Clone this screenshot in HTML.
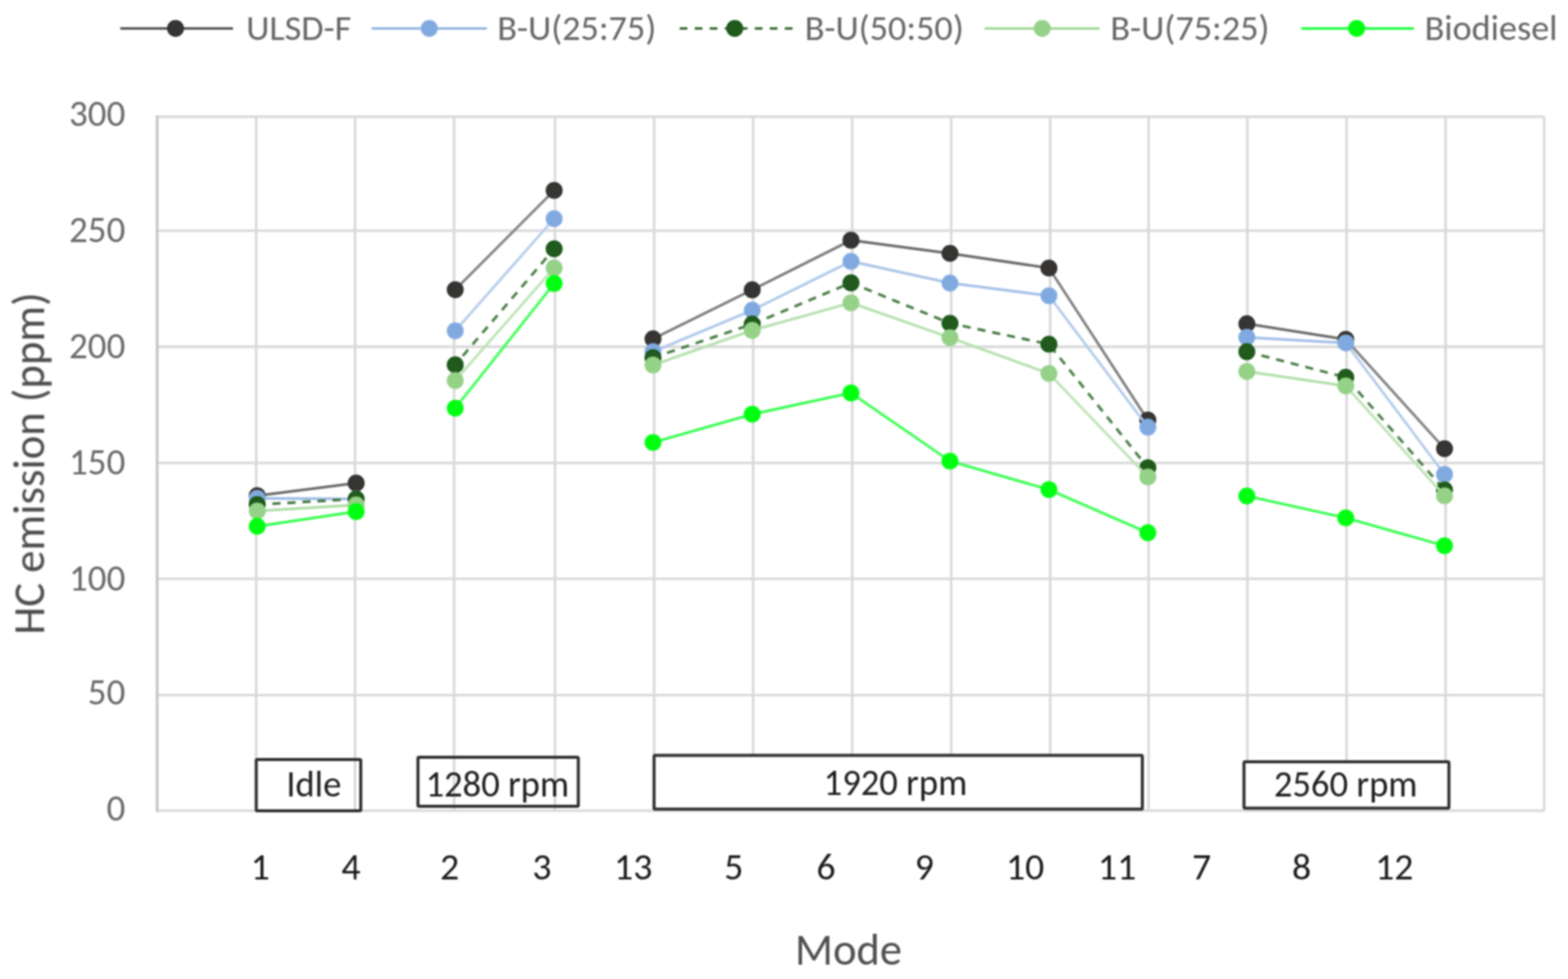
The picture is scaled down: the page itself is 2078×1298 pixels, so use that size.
<!DOCTYPE html>
<html><head><meta charset="utf-8"><title>HC emission chart</title>
<style>html,body{margin:0;padding:0;background:#fff;}body{width:2078px;height:1298px;overflow:hidden;}svg{display:block;}text{font-family:Carlito, 'Liberation Sans', sans-serif;}</style>
</head><body>
<svg width="2078" height="1298" viewBox="0 0 2078 1298">
<defs><filter id="soft" x="0" y="0" width="2078" height="1298" filterUnits="userSpaceOnUse"><feGaussianBlur stdDeviation="1.00" color-interpolation-filters="sRGB"/></filter></defs>
<rect x="0" y="0" width="2078" height="1298" fill="#ffffff"/>
<g filter="url(#soft)">
<g stroke="#d9d9d9" stroke-width="3.4" fill="none">
<line x1="208.3" y1="154.7" x2="2046.4" y2="154.7"/>
<line x1="208.3" y1="305.9" x2="2046.4" y2="305.9"/>
<line x1="208.3" y1="459.8" x2="2046.4" y2="459.8"/>
<line x1="208.3" y1="613.9" x2="2046.4" y2="613.9"/>
<line x1="208.3" y1="767.4" x2="2046.4" y2="767.4"/>
<line x1="208.3" y1="921.6" x2="2046.4" y2="921.6"/>
<line x1="208.3" y1="1074.9" x2="2046.4" y2="1074.9"/>
<line x1="339.5" y1="154.7" x2="339.5" y2="1074.9"/>
<line x1="470.5" y1="154.7" x2="470.5" y2="1074.9"/>
<line x1="601.8" y1="154.7" x2="601.8" y2="1074.9"/>
<line x1="735.5" y1="154.7" x2="735.5" y2="1074.9"/>
<line x1="866.9" y1="154.7" x2="866.9" y2="1074.9"/>
<line x1="998.1" y1="154.7" x2="998.1" y2="1074.9"/>
<line x1="1129.5" y1="154.7" x2="1129.5" y2="1074.9"/>
<line x1="1260.6" y1="154.7" x2="1260.6" y2="1074.9"/>
<line x1="1391.7" y1="154.7" x2="1391.7" y2="1074.9"/>
<line x1="1522.2" y1="154.7" x2="1522.2" y2="1074.9"/>
<line x1="1653.2" y1="154.7" x2="1653.2" y2="1074.9"/>
<line x1="1784.6" y1="154.7" x2="1784.6" y2="1074.9"/>
<line x1="1915.8" y1="154.7" x2="1915.8" y2="1074.9"/>
<line x1="2046.4" y1="154.7" x2="2046.4" y2="1074.9"/>
</g>
<line x1="208.3" y1="153.0" x2="208.3" y2="1076.6" stroke="#c4c4c4" stroke-width="3.6"/>
<g fill="#6a6a6a" font-size="49" text-anchor="end">
<text x="166" y="166.9" textLength="74.50" lengthAdjust="spacingAndGlyphs">300</text>
<text x="166" y="321.0" textLength="74.50" lengthAdjust="spacingAndGlyphs">250</text>
<text x="166" y="474.9" textLength="74.50" lengthAdjust="spacingAndGlyphs">200</text>
<text x="166" y="628.9" textLength="74.50" lengthAdjust="spacingAndGlyphs">150</text>
<text x="166" y="783.1" textLength="74.50" lengthAdjust="spacingAndGlyphs">100</text>
<text x="166" y="934.1" textLength="49.67" lengthAdjust="spacingAndGlyphs">50</text>
<text x="166" y="1087.8" textLength="24.83" lengthAdjust="spacingAndGlyphs">0</text>
</g>
<line x1="340.9" y1="657.2" x2="472.0" y2="640.5" stroke="#686868" stroke-width="3.5" stroke-linecap="round"/>
<line x1="603.3" y1="384.1" x2="734.4" y2="252.5" stroke="#858585" stroke-width="3.5" stroke-linecap="round"/>
<line x1="865.4" y1="449.3" x2="996.9" y2="384.3" stroke="#7a7a7a" stroke-width="3.5" stroke-linecap="round"/>
<line x1="996.9" y1="384.3" x2="1127.8" y2="318.5" stroke="#7a7a7a" stroke-width="3.5" stroke-linecap="round"/>
<line x1="1127.8" y1="318.5" x2="1259.0" y2="335.9" stroke="#686868" stroke-width="3.5" stroke-linecap="round"/>
<line x1="1259.0" y1="335.9" x2="1390.1" y2="355.4" stroke="#696969" stroke-width="3.5" stroke-linecap="round"/>
<line x1="1390.1" y1="355.4" x2="1521.2" y2="557.0" stroke="#7e7e7e" stroke-width="3.5" stroke-linecap="round"/>
<line x1="1652.4" y1="429.3" x2="1783.5" y2="450.0" stroke="#6a6a6a" stroke-width="3.5" stroke-linecap="round"/>
<line x1="1783.5" y1="450.0" x2="1914.4" y2="594.9" stroke="#838383" stroke-width="3.5" stroke-linecap="round"/>
<circle cx="340.9" cy="657.2" r="10.6" fill="#363533" stroke="#2b2a27" stroke-width="1.2"/>
<circle cx="472.0" cy="640.5" r="10.6" fill="#363533" stroke="#2b2a27" stroke-width="1.2"/>
<circle cx="603.3" cy="384.1" r="10.6" fill="#363533" stroke="#2b2a27" stroke-width="1.2"/>
<circle cx="734.4" cy="252.5" r="10.6" fill="#363533" stroke="#2b2a27" stroke-width="1.2"/>
<circle cx="865.4" cy="449.3" r="10.6" fill="#363533" stroke="#2b2a27" stroke-width="1.2"/>
<circle cx="996.9" cy="384.3" r="10.6" fill="#363533" stroke="#2b2a27" stroke-width="1.2"/>
<circle cx="1127.8" cy="318.5" r="10.6" fill="#363533" stroke="#2b2a27" stroke-width="1.2"/>
<circle cx="1259.0" cy="335.9" r="10.6" fill="#363533" stroke="#2b2a27" stroke-width="1.2"/>
<circle cx="1390.1" cy="355.4" r="10.6" fill="#363533" stroke="#2b2a27" stroke-width="1.2"/>
<circle cx="1521.2" cy="557.0" r="10.6" fill="#363533" stroke="#2b2a27" stroke-width="1.2"/>
<circle cx="1652.4" cy="429.3" r="10.6" fill="#363533" stroke="#2b2a27" stroke-width="1.2"/>
<circle cx="1783.5" cy="450.0" r="10.6" fill="#363533" stroke="#2b2a27" stroke-width="1.2"/>
<circle cx="1914.4" cy="594.9" r="10.6" fill="#363533" stroke="#2b2a27" stroke-width="1.2"/>
<line x1="340.9" y1="660.7" x2="472.0" y2="661.5" stroke="#9bbae4" stroke-width="3.5" stroke-linecap="round"/>
<line x1="603.3" y1="438.6" x2="734.4" y2="289.9" stroke="#b7cdec" stroke-width="3.5" stroke-linecap="round"/>
<line x1="865.4" y1="466.3" x2="996.9" y2="411.3" stroke="#afc8ea" stroke-width="3.5" stroke-linecap="round"/>
<line x1="996.9" y1="411.3" x2="1127.8" y2="346.5" stroke="#b0c9ea" stroke-width="3.5" stroke-linecap="round"/>
<line x1="1127.8" y1="346.5" x2="1259.0" y2="375.3" stroke="#a9c4e8" stroke-width="3.5" stroke-linecap="round"/>
<line x1="1259.0" y1="375.3" x2="1390.1" y2="392.1" stroke="#a5c1e7" stroke-width="3.5" stroke-linecap="round"/>
<line x1="1390.1" y1="392.1" x2="1521.2" y2="566.3" stroke="#b5cceb" stroke-width="3.5" stroke-linecap="round"/>
<line x1="1652.4" y1="447.2" x2="1783.5" y2="454.7" stroke="#a1bee6" stroke-width="3.5" stroke-linecap="round"/>
<line x1="1783.5" y1="454.7" x2="1914.4" y2="629.0" stroke="#b5cceb" stroke-width="3.5" stroke-linecap="round"/>
<circle cx="340.9" cy="660.7" r="10.6" fill="#80aadf" stroke="#80aadf" stroke-width="1.2"/>
<circle cx="472.0" cy="661.5" r="10.6" fill="#80aadf" stroke="#80aadf" stroke-width="1.2"/>
<circle cx="603.3" cy="438.6" r="10.6" fill="#80aadf" stroke="#80aadf" stroke-width="1.2"/>
<circle cx="734.4" cy="289.9" r="10.6" fill="#80aadf" stroke="#80aadf" stroke-width="1.2"/>
<circle cx="865.4" cy="466.3" r="10.6" fill="#80aadf" stroke="#80aadf" stroke-width="1.2"/>
<circle cx="996.9" cy="411.3" r="10.6" fill="#80aadf" stroke="#80aadf" stroke-width="1.2"/>
<circle cx="1127.8" cy="346.5" r="10.6" fill="#80aadf" stroke="#80aadf" stroke-width="1.2"/>
<circle cx="1259.0" cy="375.3" r="10.6" fill="#80aadf" stroke="#80aadf" stroke-width="1.2"/>
<circle cx="1390.1" cy="392.1" r="10.6" fill="#80aadf" stroke="#80aadf" stroke-width="1.2"/>
<circle cx="1521.2" cy="566.3" r="10.6" fill="#80aadf" stroke="#80aadf" stroke-width="1.2"/>
<circle cx="1652.4" cy="447.2" r="10.6" fill="#80aadf" stroke="#80aadf" stroke-width="1.2"/>
<circle cx="1783.5" cy="454.7" r="10.6" fill="#80aadf" stroke="#80aadf" stroke-width="1.2"/>
<circle cx="1914.4" cy="629.0" r="10.6" fill="#80aadf" stroke="#80aadf" stroke-width="1.2"/>
<line x1="340.9" y1="669.0" x2="472.0" y2="661.6" stroke="#3f763c" stroke-width="3.5" stroke-dasharray="10.8 9.2" stroke-dashoffset="0.00"/>
<line x1="603.3" y1="483.7" x2="734.4" y2="329.9" stroke="#497d46" stroke-width="3.5" stroke-dasharray="10.8 9.2" stroke-dashoffset="4.50"/>
<line x1="865.4" y1="474.2" x2="996.9" y2="429.8" stroke="#457a42" stroke-width="3.5" stroke-dasharray="10.8 9.2" stroke-dashoffset="0.40"/>
<line x1="996.9" y1="429.8" x2="1127.8" y2="375.0" stroke="#467b43" stroke-width="3.5" stroke-dasharray="10.8 9.2" stroke-dashoffset="139.19"/>
<line x1="1127.8" y1="375.0" x2="1259.0" y2="428.6" stroke="#467b43" stroke-width="3.5" stroke-dasharray="10.8 9.2" stroke-dashoffset="281.10"/>
<line x1="1259.0" y1="428.6" x2="1390.1" y2="456.4" stroke="#437940" stroke-width="3.5" stroke-dasharray="10.8 9.2" stroke-dashoffset="422.83"/>
<line x1="1390.1" y1="456.4" x2="1521.2" y2="620.1" stroke="#497d46" stroke-width="3.5" stroke-dasharray="10.8 9.2" stroke-dashoffset="556.84"/>
<line x1="1652.4" y1="466.3" x2="1783.5" y2="500.3" stroke="#447a41" stroke-width="3.5" stroke-dasharray="10.8 9.2" stroke-dashoffset="0.00"/>
<line x1="1783.5" y1="500.3" x2="1914.4" y2="649.6" stroke="#497e46" stroke-width="3.5" stroke-dasharray="10.8 9.2" stroke-dashoffset="135.44"/>
<circle cx="340.9" cy="669.0" r="10.6" fill="#215a1c" stroke="#0f520f" stroke-width="1.2"/>
<circle cx="472.0" cy="661.6" r="10.6" fill="#215a1c" stroke="#0f520f" stroke-width="1.2"/>
<circle cx="603.3" cy="483.7" r="10.6" fill="#215a1c" stroke="#0f520f" stroke-width="1.2"/>
<circle cx="734.4" cy="329.9" r="10.6" fill="#215a1c" stroke="#0f520f" stroke-width="1.2"/>
<circle cx="865.4" cy="474.2" r="10.6" fill="#215a1c" stroke="#0f520f" stroke-width="1.2"/>
<circle cx="996.9" cy="429.8" r="10.6" fill="#215a1c" stroke="#0f520f" stroke-width="1.2"/>
<circle cx="1127.8" cy="375.0" r="10.6" fill="#215a1c" stroke="#0f520f" stroke-width="1.2"/>
<circle cx="1259.0" cy="428.6" r="10.6" fill="#215a1c" stroke="#0f520f" stroke-width="1.2"/>
<circle cx="1390.1" cy="456.4" r="10.6" fill="#215a1c" stroke="#0f520f" stroke-width="1.2"/>
<circle cx="1521.2" cy="620.1" r="10.6" fill="#215a1c" stroke="#0f520f" stroke-width="1.2"/>
<circle cx="1652.4" cy="466.3" r="10.6" fill="#215a1c" stroke="#0f520f" stroke-width="1.2"/>
<circle cx="1783.5" cy="500.3" r="10.6" fill="#215a1c" stroke="#0f520f" stroke-width="1.2"/>
<circle cx="1914.4" cy="649.6" r="10.6" fill="#215a1c" stroke="#0f520f" stroke-width="1.2"/>
<line x1="340.9" y1="677.5" x2="472.0" y2="669.5" stroke="#addca4" stroke-width="3.5" stroke-linecap="round"/>
<line x1="603.3" y1="504.5" x2="734.4" y2="355.2" stroke="#bfe4b8" stroke-width="3.5" stroke-linecap="round"/>
<line x1="865.4" y1="484.0" x2="996.9" y2="438.0" stroke="#b7e0af" stroke-width="3.5" stroke-linecap="round"/>
<line x1="996.9" y1="438.0" x2="1127.8" y2="401.5" stroke="#b5dfad" stroke-width="3.5" stroke-linecap="round"/>
<line x1="1127.8" y1="401.5" x2="1259.0" y2="447.6" stroke="#b7e0af" stroke-width="3.5" stroke-linecap="round"/>
<line x1="1259.0" y1="447.6" x2="1390.1" y2="495.2" stroke="#b7e0af" stroke-width="3.5" stroke-linecap="round"/>
<line x1="1390.1" y1="495.2" x2="1521.2" y2="632.4" stroke="#c0e4b9" stroke-width="3.5" stroke-linecap="round"/>
<line x1="1652.4" y1="492.5" x2="1783.5" y2="511.7" stroke="#b1dea9" stroke-width="3.5" stroke-linecap="round"/>
<line x1="1783.5" y1="511.7" x2="1914.4" y2="657.4" stroke="#bfe4b8" stroke-width="3.5" stroke-linecap="round"/>
<circle cx="340.9" cy="677.5" r="10.6" fill="#95d288" stroke="#95d288" stroke-width="1.2"/>
<circle cx="472.0" cy="669.5" r="10.6" fill="#95d288" stroke="#95d288" stroke-width="1.2"/>
<circle cx="603.3" cy="504.5" r="10.6" fill="#95d288" stroke="#95d288" stroke-width="1.2"/>
<circle cx="734.4" cy="355.2" r="10.6" fill="#95d288" stroke="#95d288" stroke-width="1.2"/>
<circle cx="865.4" cy="484.0" r="10.6" fill="#95d288" stroke="#95d288" stroke-width="1.2"/>
<circle cx="996.9" cy="438.0" r="10.6" fill="#95d288" stroke="#95d288" stroke-width="1.2"/>
<circle cx="1127.8" cy="401.5" r="10.6" fill="#95d288" stroke="#95d288" stroke-width="1.2"/>
<circle cx="1259.0" cy="447.6" r="10.6" fill="#95d288" stroke="#95d288" stroke-width="1.2"/>
<circle cx="1390.1" cy="495.2" r="10.6" fill="#95d288" stroke="#95d288" stroke-width="1.2"/>
<circle cx="1521.2" cy="632.4" r="10.6" fill="#95d288" stroke="#95d288" stroke-width="1.2"/>
<circle cx="1652.4" cy="492.5" r="10.6" fill="#95d288" stroke="#95d288" stroke-width="1.2"/>
<circle cx="1783.5" cy="511.7" r="10.6" fill="#95d288" stroke="#95d288" stroke-width="1.2"/>
<circle cx="1914.4" cy="657.4" r="10.6" fill="#95d288" stroke="#95d288" stroke-width="1.2"/>
<line x1="340.9" y1="697.8" x2="472.0" y2="678.3" stroke="#31ff4b" stroke-width="3.5" stroke-linecap="round"/>
<line x1="603.3" y1="541.2" x2="734.4" y2="375.8" stroke="#43ff5b" stroke-width="3.5" stroke-linecap="round"/>
<line x1="865.4" y1="586.6" x2="996.9" y2="549.2" stroke="#37ff50" stroke-width="3.5" stroke-linecap="round"/>
<line x1="996.9" y1="549.2" x2="1127.8" y2="521.0" stroke="#34ff4d" stroke-width="3.5" stroke-linecap="round"/>
<line x1="1127.8" y1="521.0" x2="1259.0" y2="611.4" stroke="#41ff59" stroke-width="3.5" stroke-linecap="round"/>
<line x1="1259.0" y1="611.4" x2="1390.1" y2="649.1" stroke="#37ff50" stroke-width="3.5" stroke-linecap="round"/>
<line x1="1390.1" y1="649.1" x2="1521.2" y2="706.3" stroke="#3cff54" stroke-width="3.5" stroke-linecap="round"/>
<line x1="1652.4" y1="657.6" x2="1783.5" y2="686.6" stroke="#34ff4e" stroke-width="3.5" stroke-linecap="round"/>
<line x1="1783.5" y1="686.6" x2="1914.4" y2="723.6" stroke="#37ff50" stroke-width="3.5" stroke-linecap="round"/>
<circle cx="340.9" cy="697.8" r="10.6" fill="#00ff11" stroke="#00ff11" stroke-width="1.2"/>
<circle cx="472.0" cy="678.3" r="10.6" fill="#00ff11" stroke="#00ff11" stroke-width="1.2"/>
<circle cx="603.3" cy="541.2" r="10.6" fill="#00ff11" stroke="#00ff11" stroke-width="1.2"/>
<circle cx="734.4" cy="375.8" r="10.6" fill="#00ff11" stroke="#00ff11" stroke-width="1.2"/>
<circle cx="865.4" cy="586.6" r="10.6" fill="#00ff11" stroke="#00ff11" stroke-width="1.2"/>
<circle cx="996.9" cy="549.2" r="10.6" fill="#00ff11" stroke="#00ff11" stroke-width="1.2"/>
<circle cx="1127.8" cy="521.0" r="10.6" fill="#00ff11" stroke="#00ff11" stroke-width="1.2"/>
<circle cx="1259.0" cy="611.4" r="10.6" fill="#00ff11" stroke="#00ff11" stroke-width="1.2"/>
<circle cx="1390.1" cy="649.1" r="10.6" fill="#00ff11" stroke="#00ff11" stroke-width="1.2"/>
<circle cx="1521.2" cy="706.3" r="10.6" fill="#00ff11" stroke="#00ff11" stroke-width="1.2"/>
<circle cx="1652.4" cy="657.6" r="10.6" fill="#00ff11" stroke="#00ff11" stroke-width="1.2"/>
<circle cx="1783.5" cy="686.6" r="10.6" fill="#00ff11" stroke="#00ff11" stroke-width="1.2"/>
<circle cx="1914.4" cy="723.6" r="10.6" fill="#00ff11" stroke="#00ff11" stroke-width="1.2"/>
<line x1="159.5" y1="37.7" x2="308.8" y2="37.7" stroke="#404040" stroke-width="3.0"/>
<circle cx="232.6" cy="37.7" r="10.6" fill="#363533" stroke="#2b2a27" stroke-width="1.2"/>
<text x="326.2" y="53" font-size="48" fill="#666666" textLength="139.31" lengthAdjust="spacingAndGlyphs">ULSD-F</text>
<line x1="492.5" y1="37.7" x2="645.2" y2="37.7" stroke="#88adde" stroke-width="3.0"/>
<circle cx="568.9" cy="37.7" r="10.6" fill="#80aadf" stroke="#80aadf" stroke-width="1.2"/>
<text x="658.9" y="53" font-size="48" fill="#666666" textLength="210.87" lengthAdjust="spacingAndGlyphs">B-U(25:75)</text>
<line x1="900.8" y1="37.7" x2="1050.7" y2="37.7" stroke="#1e5c19" stroke-width="3.0" stroke-dasharray="10.2 9.7"/>
<circle cx="973.7" cy="37.7" r="10.6" fill="#215a1c" stroke="#0f520f" stroke-width="1.2"/>
<text x="1066.4" y="53" font-size="48" fill="#666666" textLength="210.87" lengthAdjust="spacingAndGlyphs">B-U(50:50)</text>
<line x1="1304.8" y1="37.7" x2="1457.3" y2="37.7" stroke="#97d38f" stroke-width="3.0"/>
<circle cx="1381.2" cy="37.7" r="10.6" fill="#95d288" stroke="#95d288" stroke-width="1.2"/>
<text x="1471.5" y="53" font-size="48" fill="#666666" textLength="210.87" lengthAdjust="spacingAndGlyphs">B-U(75:25)</text>
<line x1="1724.6" y1="37.7" x2="1873.7" y2="37.7" stroke="#00ff27" stroke-width="3.0"/>
<circle cx="1797.9" cy="37.7" r="10.6" fill="#00ff11" stroke="#00ff11" stroke-width="1.2"/>
<text x="1887.9" y="53" font-size="48" fill="#666666" textLength="176.23" lengthAdjust="spacingAndGlyphs">Biodiesel</text>
<rect x="339.6" y="1006.9" width="138.5" height="68.0" rx="1.5" fill="none" stroke="#2e2e2e" stroke-width="4.0"/>
<text x="379.4" y="1056.3" font-size="48.5" fill="#1e1e1e" textLength="72.96" lengthAdjust="spacingAndGlyphs">Idle</text>
<rect x="553.9" y="1003.9" width="212.5" height="65.2" rx="1.5" fill="none" stroke="#2e2e2e" stroke-width="4.0"/>
<text x="563.9" y="1056.4" font-size="48.5" fill="#1e1e1e" textLength="190.42" lengthAdjust="spacingAndGlyphs">1280 rpm</text>
<rect x="866.8" y="1001.5" width="647.1" height="71.2" rx="1.5" fill="#ffffff" stroke="#2e2e2e" stroke-width="4.0"/>
<text x="1091.6" y="1054.0" font-size="48.5" fill="#1e1e1e" textLength="190.42" lengthAdjust="spacingAndGlyphs">1920 rpm</text>
<rect x="1648.6" y="1010.1" width="271.6" height="61.4" rx="1.5" fill="#ffffff" stroke="#2e2e2e" stroke-width="4.0"/>
<text x="1688.2" y="1056.4" font-size="48.5" fill="#1e1e1e" textLength="190.42" lengthAdjust="spacingAndGlyphs">2560 rpm</text>
<g fill="#1a1a1a" font-size="50" text-anchor="middle">
<text x="345.0" y="1165.5" textLength="25.34" lengthAdjust="spacingAndGlyphs">1</text>
<text x="465.1" y="1165.5" textLength="25.34" lengthAdjust="spacingAndGlyphs">4</text>
<text x="595.8" y="1165.5" textLength="25.34" lengthAdjust="spacingAndGlyphs">2</text>
<text x="718.2" y="1165.5" textLength="25.34" lengthAdjust="spacingAndGlyphs">3</text>
<text x="839.2" y="1165.5" textLength="50.68" lengthAdjust="spacingAndGlyphs">13</text>
<text x="972.3" y="1165.5" textLength="25.34" lengthAdjust="spacingAndGlyphs">5</text>
<text x="1094.7" y="1165.5" textLength="25.34" lengthAdjust="spacingAndGlyphs">6</text>
<text x="1225.0" y="1165.5" textLength="25.34" lengthAdjust="spacingAndGlyphs">9</text>
<text x="1358.5" y="1165.5" textLength="50.68" lengthAdjust="spacingAndGlyphs">10</text>
<text x="1480.4" y="1165.5" textLength="50.68" lengthAdjust="spacingAndGlyphs">11</text>
<text x="1592.3" y="1165.5" textLength="25.34" lengthAdjust="spacingAndGlyphs">7</text>
<text x="1725.0" y="1165.5" textLength="25.34" lengthAdjust="spacingAndGlyphs">8</text>
<text x="1847.8" y="1165.5" textLength="50.68" lengthAdjust="spacingAndGlyphs">12</text>
</g>
<text x="1124.5" y="1279" font-size="59" fill="#505050" text-anchor="middle" textLength="141.91" lengthAdjust="spacingAndGlyphs">Mode</text>
<text transform="translate(58.5,614.5) rotate(-90)" font-size="59.3" fill="#4c4c4c" text-anchor="middle" textLength="453.93" lengthAdjust="spacingAndGlyphs">HC emission (ppm)</text>
</g>
</svg>
</body></html>
